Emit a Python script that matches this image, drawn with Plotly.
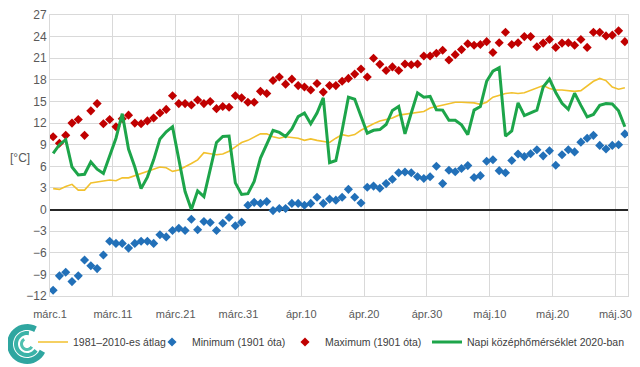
import math
import plotly.graph_objects as go

# ---- data (day index 1 = March 1 ... 92 = May 31) ----
days = list(range(1, 93))

tick_pos = [0.5, 10.5, 20.5, 30.5, 40.5, 50.5, 60.5, 70.5, 80.5, 90.5]
tick_labels = ["márc.1", "márc.11", "márc.21", "márc.31", "ápr.10",
               "ápr.20", "ápr.30", "máj.10", "máj.20", "máj.30"]

avg_1981_2010 = [
    2.9, 2.8, 3.2, 3.5, 2.7, 2.7, 3.7, 3.8, 4.0, 4.1, 4.0, 4.4, 4.4, 4.7, 5.1, 5.3, 5.7, 5.9, 5.8, 5.3, 5.5, 5.9, 6.4,
    6.9, 7.9, 7.75, 7.6, 7.7, 8.1, 8.7, 9.3, 9.6, 10.0, 10.5, 10.5, 10.1, 9.9, 10.1, 10.0, 9.9, 9.6, 9.8, 9.6, 9.4, 9.3, 9.9, 10.4,
    10.2, 10.4, 11.0, 11.5, 11.9, 12.3, 12.5, 12.7, 13.1, 13.2, 13.3, 13.4, 13.6, 14.1, 14.3, 14.5, 14.8, 14.9, 14.9, 14.9, 14.8, 14.6,
    14.9, 15.6, 15.9, 16.1, 16.2, 16.1, 16.2, 16.5, 16.8, 17.2, 16.8, 16.6, 16.6, 16.5, 16.4, 16.5, 17.1, 17.8, 18.2, 17.9, 17.0, 16.7, 16.9,
]

minimum_1901 = [
    -11.2, -9.2, -8.7, -10.0, -9.2, -7.0, -7.8, -8.2, -6.3, -4.4, -4.7, -4.7, -5.35, -4.7, -4.4, -4.4, -4.7, -3.5, -3.8, -2.9, -2.6, -2.9, -1.35,
    -2.8, -1.65, -1.8, -2.9, -1.9, -1.1, -2.25, -1.75, 0.6, 1.0, 0.85, 1.1, -0.15, 0.15, 0.15, 0.85, 0.85, 0.6, 0.85, 1.7, 0.85, 1.45, 1.3,
    1.7, 2.8, 1.7, 0.9, 3.1, 3.25, 2.95, 3.6, 4.2, 5.1, 5.2, 5.1, 4.55,
    4.3, 4.55, 6.0, 3.6, 5.45, 5.25, 5.7, 6.1, 4.45, 4.7, 6.7, 6.9, 5.4, 5.1, 6.8, 7.7, 7.35, 7.75, 8.3, 7.45,
    8.15, 6.15, 7.6, 8.3, 8.0, 9.35, 9.9, 10.3, 8.9, 8.4, 8.9, 9.0, 10.5,
]

maximum_1901 = [
    10.1, 9.2, 10.3, 12.0, 12.5, 10.3, 13.7, 14.7, 11.9, 12.5, 11.5, 12.6, 13.1, 12.0, 11.9, 12.3, 12.7, 13.4, 13.9, 15.8, 14.7, 14.7, 14.5,
    15.2, 14.7, 15.0, 14.0, 14.3, 14.2, 15.8, 15.5, 14.9, 14.9, 16.4, 16.1, 17.9, 18.4, 17.4, 18.1, 17.2, 17.0, 16.6, 17.5, 16.3, 17.2, 17.2,
    17.8, 18.2, 18.8, 19.5, 18.4, 21.0, 20.15, 19.3, 19.8, 19.3, 20.2, 20.1, 20.2,
    21.3, 21.3, 21.7, 22.1, 20.75, 21.5, 22.2, 23.0, 22.8, 22.9, 23.3, 21.8, 23.15, 24.6, 22.9, 23.15, 24.0, 24.0, 22.6, 23.1,
    23.6, 22.5, 23.1, 23.15, 22.8, 23.6, 22.5, 24.6, 24.6, 24.1, 24.2, 24.8, 23.3,
]

daily_mean_2020 = [
    7.8, 9.0, 9.7, 5.9, 4.8, 4.9, 6.6, 5.6, 5.0, 7.4, 9.9, 13.3, 8.4, 5.9, 2.9, 4.5, 6.9, 9.8, 10.8, 11.5, 6.9, 2.5, 0.0,
    2.6, 1.8, 5.5, 9.3, 10.15, 10.2, 3.7, 2.1, 2.2, 3.9, 7.15, 9.2, 11.0, 10.7, 10.15, 11.2, 12.9, 13.4, 11.9, 13.4, 15.5, 6.5, 6.8,
    11.0, 15.6, 15.3, 12.9, 10.6, 11.0, 11.1, 11.8, 13.75, 14.3, 10.5, 13.4, 16.2, 15.6, 15.7, 13.85, 13.8, 12.4, 12.4, 11.75, 10.4, 13.8, 14.3,
    17.8, 19.2, 19.7, 10.2, 10.9, 14.8, 13.05, 13.45, 13.8, 17.0, 18.1, 16.25, 14.75, 13.9, 16.15, 14.45, 12.85, 13.2, 14.45, 14.7, 14.65, 13.7, 11.5,
]

FONT = "Liberation Sans, Arial, sans-serif"
TXT = "#595959"
GRID = "#d9d9d9"

# ---- layout geometry (page pixels; the page body adds an 8px offset) ----
OFF = 8
W, H = 640 - OFF, 367 - OFF
PL, PR, PT, PB = 50, 628, 15, 296          # plot area in page pixels
ML, MR, MT, MB = PL - OFF, 640 - PR, PT - OFF, 367 - PB
pw, ph = PR - PL, PB - PT


def px2paper(px, py):
    return (px - PL) / pw, (PB - py) / ph


fig = go.Figure()
fig.add_trace(go.Scatter(x=days, y=avg_1981_2010, mode="lines", name="1981–2010-es átlag",
                         line=dict(color="#F2C12E", width=1.6), legend="legend"))
fig.add_trace(go.Scatter(x=days, y=minimum_1901, mode="markers", name="Minimum (1901 óta)",
                         marker=dict(symbol="diamond", size=7, color="#2270B8"), legend="legend2"))
fig.add_trace(go.Scatter(x=days, y=maximum_1901, mode="markers", name="Maximum (1901 óta)",
                         marker=dict(symbol="diamond", size=7, color="#C00000"), legend="legend3"))
fig.add_trace(go.Scatter(x=days, y=daily_mean_2020, mode="lines", name="Napi középhőmérséklet 2020-ban",
                         line=dict(color="#1DA54A", width=3), legend="legend4"))

# logo (decorative swirl) at bottom-left
shapes = []
cx, cy = 27, 344
for r, w, a0, a1, col in [(17, 6, 60, 335, "#2FA6A0"), (11, 4, 80, 325, "#3BB3A8"),
                          (5.5, 3, 120, 330, "#4FC0B0")]:
    pts = []
    for k in range(31):
        a = math.radians(a0 + (a1 - a0) * k / 30)
        pts.append(px2paper(cx + r * math.cos(a), cy - r * math.sin(a)))
    path = "M " + " L ".join(f"{x:.5f},{y:.5f}" for x, y in pts)
    shapes.append(dict(type="path", path=path, xref="paper", yref="paper",
                       line=dict(color=col, width=w), layer="above"))


def leg(text_px):
    # legend text starts 42px after the legend's left edge
    return dict(orientation="h", xref="container", yref="container",
                x=(text_px - OFF - 42) / W, xanchor="left",
                y=1 - (342 - OFF) / H, yanchor="middle",
                font=dict(family=FONT, size=10.5, color="#404040"), bgcolor="rgba(0,0,0,0)")


lx, ly = px2paper(20, 158)
fig.update_layout(
    width=W, height=H,
    margin=dict(l=ML, r=MR, t=MT, b=MB, autoexpand=False),
    paper_bgcolor="white", plot_bgcolor="white",
    font=dict(family=FONT, size=11, color=TXT),
    showlegend=True,
    legend=leg(75), legend2=leg(194), legend3=leg(327), legend4=leg(469),
    xaxis=dict(range=[0.5, 92.5], tickmode="array", tickvals=tick_pos, ticktext=tick_labels,
               showgrid=True, gridcolor=GRID, gridwidth=1, zeroline=False,
               showline=True, linecolor=GRID, mirror=True,
               ticks="outside", ticklen=8, tickcolor="rgba(0,0,0,0)",
               tickfont=dict(family=FONT, size=11, color=TXT)),
    yaxis=dict(range=[-12, 27], tick0=-12, dtick=3, showgrid=True, gridcolor=GRID,
               zeroline=True, zerolinecolor="#262626", zerolinewidth=1.5,
               showline=True, linecolor=GRID, mirror=True, ticks="",
               tickfont=dict(family=FONT, size=12, color=TXT)),
    shapes=shapes,
    annotations=[dict(text="[°C]", x=lx, y=ly, xref="paper", yref="paper", showarrow=False,
                      font=dict(family=FONT, size=12, color=TXT), xanchor="center", yanchor="middle")],
)

fig.write_html("out.html")
